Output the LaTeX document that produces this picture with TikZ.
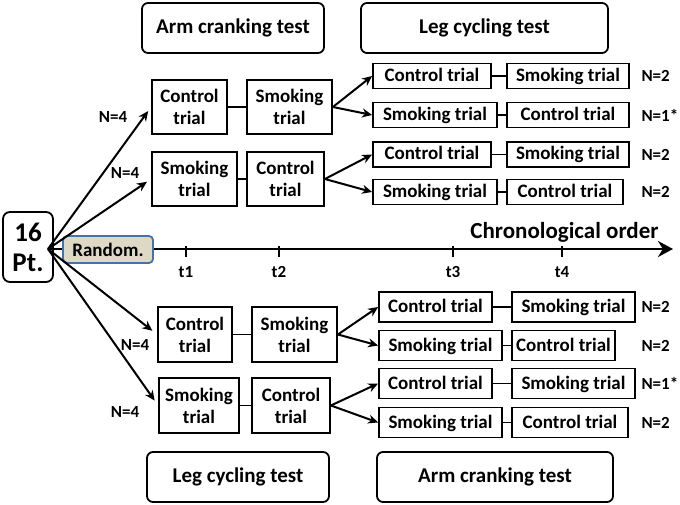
\documentclass[tikz,border=0pt]{standalone}
\usepackage{fontspec}
\setmainfont{Carlito}
\usetikzlibrary{arrows.meta}

\definecolor{randfill}{RGB}{221,217,196}
\definecolor{randline}{RGB}{68,114,170}

\begin{document}
\begin{tikzpicture}[x=1pt,y=-1pt,
    trial/.style={draw, line width=1.8pt, align=center, inner sep=0pt,
      font=\fontsize{19}{22}\selectfont\bfseries},
    single/.style={trial, text height=14pt, text depth=3pt, minimum height=#1},
    test/.style={draw, rounded corners=6pt, line width=1.8pt, minimum height=50pt,
      font=\fontsize{21}{24}\selectfont\bfseries},
    arr/.style={-{Stealth[length=10pt,width=9pt]}, line width=2pt},
    link/.style={line width=1.8pt},
    nlab/.style={font=\fontsize{17}{20}\selectfont\bfseries}]

    \useasboundingbox (0,0) rectangle (680,505);

    % Test headers
    \node[test, minimum width=182pt] (h1) at (233,28) {Arm cranking test};
    \node[test, minimum width=247pt] (h2) at (484.5,28) {Leg cycling test};
    \node[test, minimum width=182pt] (h3) at (238,477) {Leg cycling test};
    \node[test, minimum width=236pt] (h4) at (495,477) {Arm cranking test};

    % Participants and time axis
    \node[draw, rounded corners=7pt, line width=1.8pt, minimum width=50pt, minimum height=70pt,
      align=center, font=\fontsize{27}{30}\selectfont\bfseries] (pt) at (28,247) {16\\Pt.};
    \coordinate (org) at (48,249);
    \coordinate (tend) at (673,249);
    \draw[line width=2.8pt, -{Stealth[length=15pt,width=16pt]}] (org) -- (tend);
    \node[draw=randline, fill=randfill, line width=1.8pt, rounded corners=4pt,
      minimum width=90pt, minimum height=27pt, font=\fontsize{19}{22}\selectfont\bfseries]
      (rand) at (108,249.5) {Random.};
    \node[font=\fontsize{23}{26}\selectfont\bfseries, anchor=base east] (chron) at (662,238) {Chronological order};
    \foreach \x/\t in {186/t1, 279/t2, 453/t3, 562/t4} {
        \draw[line width=2.2pt] (\x,246) -- (\x,257);
        \node[nlab] (\t) at (\x,272) {\t};
    }

    % First session (upper)
    \node[trial, minimum width=75pt, minimum height=54pt] (a1) at (189.5,107) {Control\\trial};
    \node[trial, minimum width=85pt, minimum height=54pt] (a2) at (289.5,107) {Smoking\\trial};
    \node[trial, minimum width=85pt, minimum height=54pt] (b1) at (194.5,179) {Smoking\\trial};
    \node[trial, minimum width=77pt, minimum height=54pt] (b2) at (285.5,179) {Control\\trial};

    % Second session (upper)
    \node[single=25pt, minimum width=118pt] (r1a) at (432,76) {Control trial};
    \node[single=25pt, minimum width=122pt] (r1b) at (568,76) {Smoking trial};
    \node[single=25pt, minimum width=124pt] (r2a) at (435,115) {Smoking trial};
    \node[single=25pt, minimum width=122pt] (r2b) at (568,115) {Control trial};
    \node[single=25pt, minimum width=118pt] (r3a) at (432,154.5) {Control trial};
    \node[single=25pt, minimum width=122pt] (r3b) at (568,154.5) {Smoking trial};
    \node[single=25pt, minimum width=124pt] (r4a) at (435,192) {Smoking trial};
    \node[single=25pt, minimum width=116pt] (r4b) at (565,192) {Control trial};

    % First session (lower)
    \node[trial, minimum width=74pt, minimum height=55pt] (c1) at (195,334.5) {Control\\trial};
    \node[trial, minimum width=85pt, minimum height=55pt] (c2) at (294.5,334.5) {Smoking\\trial};
    \node[trial, minimum width=80pt, minimum height=55pt] (d1) at (199,405.5) {Smoking\\trial};
    \node[trial, minimum width=78pt, minimum height=55pt] (d2) at (291,405.5) {Control\\trial};

    % Second session (lower)
    \node[single=30pt, minimum width=113pt] (r5a) at (435.5,307) {Control trial};
    \node[single=30pt, minimum width=123pt] (r5b) at (573.5,307) {Smoking trial};
    \node[single=30pt, minimum width=123pt] (r6a) at (440.5,345.5) {Smoking trial};
    \node[single=30pt, minimum width=103pt] (r6b) at (563.5,345.5) {Control trial};
    \node[single=30pt, minimum width=113pt] (r7a) at (435.5,383.5) {Control trial};
    \node[single=30pt, minimum width=123pt] (r7b) at (573.5,383.5) {Smoking trial};
    \node[single=30pt, minimum width=123pt] (r8a) at (440.5,422.5) {Smoking trial};
    \node[single=30pt, minimum width=116pt] (r8b) at (570,422.5) {Control trial};

    % Links inside each order
    \foreach \p in {a,b,c,d} \draw[link] (\p1) -- (\p2);
    \foreach \p in {1,...,8} \draw[link] (r\p a) -- (r\p b);

    % Arrows from randomisation
    \draw[arr, shorten >=5pt] (org) -- (a1.west);
    \draw[arr, shorten >=5pt] (org) -- (b1.west);
    \draw[arr, shorten >=6pt] (org) -- (c1.west);
    \draw[arr, shorten >=6pt] (org) -- (d1.west);
    \node[nlab] (m1) at (113,117) {N=4};
    \node[nlab] (m2) at (125,173) {N=4};
    \node[nlab] (m3) at (135,345) {N=4};
    \node[nlab] (m4) at (125,412) {N=4};

    % Arrows to second session
    \draw[arr] (a2.east) -- (r1a.west);
    \draw[arr] (a2.east) -- (r2a.west);
    \draw[arr] (b2.east) -- (r3a.west);
    \draw[arr] (b2.east) -- (r4a.west);
    \draw[arr] (c2.east) -- (r5a.west);
    \draw[arr] (c2.east) -- (r6a.west);
    \draw[arr] (d2.east) -- (r7a.west);
    \draw[arr] (d2.east) -- (r8a.west);

    % Group sizes
    \node[nlab, anchor=west] (n1) at (638,76) {N=2};
    \node[nlab, anchor=west] (n2) at (638,115) {N=1*};
    \node[nlab, anchor=west] (n3) at (638,154.5) {N=2};
    \node[nlab, anchor=west] (n4) at (638,192) {N=2};
    \node[nlab, anchor=west] (n5) at (638,307) {N=2};
    \node[nlab, anchor=west] (n6) at (638,345.5) {N=2};
    \node[nlab, anchor=west] (n7) at (638,383.5) {N=1*};
    \node[nlab, anchor=west] (n8) at (638,422.5) {N=2};
\end{tikzpicture}
\end{document}
